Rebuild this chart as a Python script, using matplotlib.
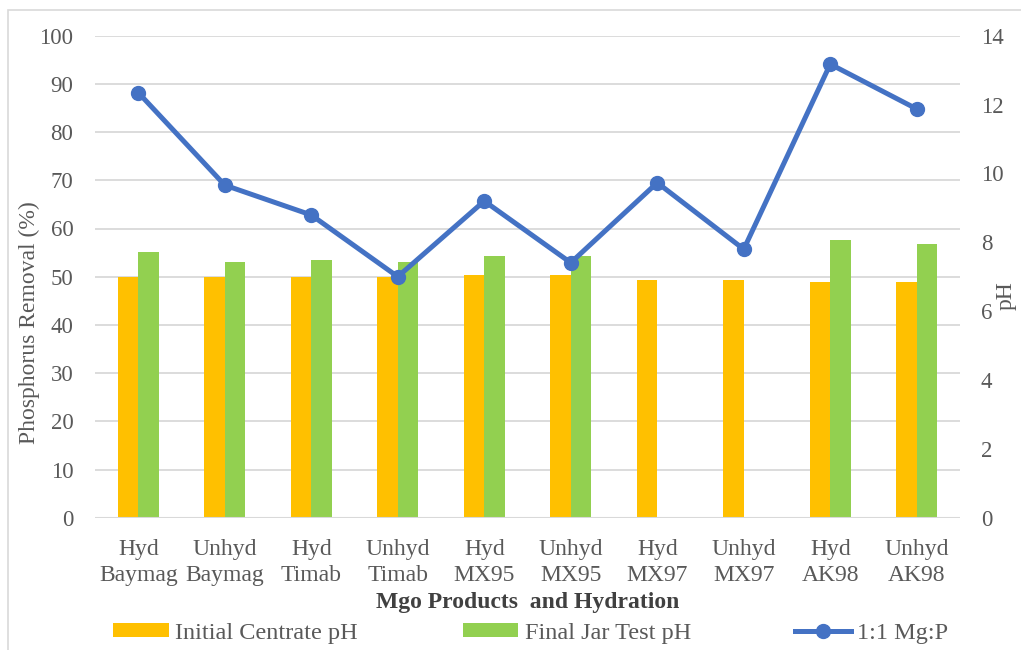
import numpy as np
import matplotlib
matplotlib.use("Agg")
import matplotlib.pyplot as plt
from matplotlib.patches import Rectangle, Patch
from matplotlib.lines import Line2D

plt.rcParams['font.family'] = ['Liberation Serif', 'DejaVu Serif']

# Data
products = ["Hyd\nBaymag", "Unhyd\nBaymag", "Hyd\nTimab", "Unhyd\nTimab", "Hyd\nMX95",
            "Unhyd\nMX95", "Hyd\nMX97", "Unhyd\nMX97", "Hyd\nAK98", "Unhyd\nAK98"]
p_removal = [88.2, 69.0, 62.8, 50.0, 65.7, 52.9, 69.5, 55.7, 94.1, 84.8]
initial_ph = [7.0, 7.0, 7.0, 7.0, 7.05, 7.05, 6.9, 6.9, 6.85, 6.85]
final_ph = [7.72, 7.43, 7.48, 7.43, 7.6, 7.6, np.nan, np.nan, 8.07, 7.95]

pct_ticks = list(range(0, 101, 10))
ph_ticks = list(range(0, 15, 2))

ORANGE = "#FFC000"
GREEN = "#92D050"
BLUE = "#4472C4"
GRID = "#D9D9D9"
TXT = "#595959"
FS = 17

fig = plt.figure(figsize=(10.21, 6.5), dpi=100)
fig.patch.set_facecolor("white")

# thin chart-area border
fig.patches.append(Rectangle((8 / 1021, -0.05), 1.2, 1 - 10 / 650 + 0.05,
                             transform=fig.transFigure, fill=False,
                             edgecolor=GRID, linewidth=1.2))

pos = [95 / 1021, 1 - 517.7 / 650, (960 - 95) / 1021, (517.7 - 35.7) / 650]

# left axis: phosphorus removal, with gridlines
ax = fig.add_axes(pos)
ax.set_xlim(-0.5, len(products) - 0.5)
ax.set_ylim(0, 100)
ax.set_yticks(pct_ticks)
ax.grid(axis="y", color=GRID, linewidth=1.3)
ax.set_axisbelow(True)
for s in ax.spines.values():
    s.set_visible(False)
ax.tick_params(axis="y", length=0, pad=15.5, labelsize=FS - 0.5, labelcolor=TXT)
ax.tick_params(axis="x", length=0, pad=15, labelsize=FS, labelcolor=TXT)
x = np.arange(len(products))
ax.set_xticks(x)
ax.set_xticklabels(products, linespacing=1.35)
ax.set_ylabel("Phosphorus Removal (%)", fontsize=FS, color=TXT,
              ha="center", va="center")
ax.yaxis.set_label_coords(-0.0763, 0.405)
ax.set_xlabel("Mgo Products  and Hydration", fontsize=FS, color="#404040",
              fontweight="bold", labelpad=4)

# right axis: pH bars
ax2 = ax.twinx()
ax2.set_ylim(0, 14)
ax2.set_yticks(ph_ticks)
for s in ax2.spines.values():
    s.set_visible(False)
ax2.tick_params(axis="y", length=0, pad=15, labelsize=FS - 0.5, labelcolor=TXT)
ax2.set_ylabel("pH", fontsize=FS, color=TXT, ha="center", va="center",
               rotation=90)
ax2.yaxis.set_label_coords(1.053, 0.46)
w = 0.238
ax2.bar(x - w / 2, initial_ph, width=w, color=ORANGE, zorder=2)
ax2.bar(x + w / 2, final_ph, width=w, color=GREEN, zorder=2)
ax2.axhline(0, color=GRID, linewidth=1.5, zorder=3)

# line on the removal scale, drawn on top
ax3 = fig.add_axes(pos, sharex=ax, sharey=ax)
ax3.patch.set_visible(False)
ax3.axis("off")
ax3.plot(x, p_removal, color=BLUE, linewidth=3.6, marker="o", markersize=10,
         solid_capstyle="round", zorder=5)

handles = [Patch(facecolor=ORANGE), Patch(facecolor=GREEN),
           Line2D([], [], color=BLUE, linewidth=3.6, marker="o", markersize=10)]
labels = ["Initial Centrate pH", "Final Jar Test pH", "1:1 Mg:P"]
leg = fig.legend(handles, labels, loc="center", bbox_to_anchor=(0.52, 0.026),
                 ncol=3, frameon=False, fontsize=17.5, handlelength=2.3,
                 handleheight=0.5, handletextpad=0.25, columnspacing=4.3,
                 borderpad=0)
for t in leg.get_texts():
    t.set_color(TXT)

fig.savefig("out.png", dpi=100, facecolor="white")
